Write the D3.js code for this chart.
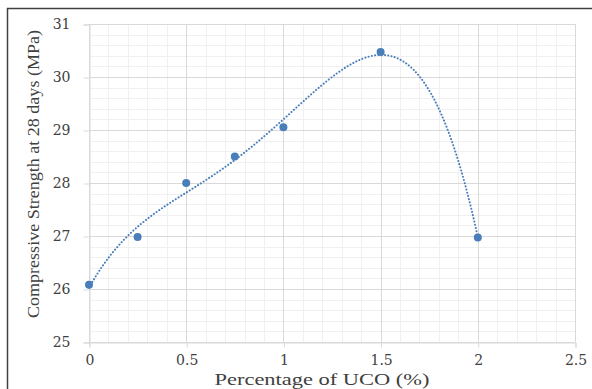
<!DOCTYPE html>
<html>
<head>
<meta charset="utf-8">
<script src="https://cdn.jsdelivr.net/npm/d3@7"></script>
<style>
  body { margin: 0; background: #fff; }
  svg text { font-family: "Liberation Serif", "Times New Roman", serif; fill: #404040; }
</style>
</head>
<body>
<svg id="chart" width="592" height="389"></svg>
<script>
const ucoPercent = [0, 0.25, 0.5, 0.75, 1, 1.5, 2];
const strength28 = [26.08, 26.98, 28.0, 28.5, 29.05, 30.47, 26.97];
const xTicks = [0, 0.5, 1, 1.5, 2, 2.5];
const yTicks = [25, 26, 27, 28, 29, 30, 31];

// least squares polynomial (like the spreadsheet trendline)
function polyfit(xs, ys, order) {
  const n = order + 1;
  const A = Array.from({ length: n }, () => new Array(n + 1).fill(0));
  for (let r = 0; r < n; r++) {
    for (let c = 0; c < n; c++) A[r][c] = d3.sum(xs, x => Math.pow(x, r + c));
    A[r][n] = d3.sum(xs, (x, i) => ys[i] * Math.pow(x, r));
  }
  for (let i = 0; i < n; i++) {
    let p = i;
    for (let k = i + 1; k < n; k++) if (Math.abs(A[k][i]) > Math.abs(A[p][i])) p = k;
    [A[i], A[p]] = [A[p], A[i]];
    for (let k = i + 1; k < n; k++) {
      const f = A[k][i] / A[i][i];
      for (let j = i; j <= n; j++) A[k][j] -= f * A[i][j];
    }
  }
  const coef = new Array(n).fill(0);
  for (let i = n - 1; i >= 0; i--) {
    let s = A[i][n];
    for (let j = i + 1; j < n; j++) s -= A[i][j] * coef[j];
    coef[i] = s / A[i][i];
  }
  return x => coef.reduce((acc, c, i) => acc + c * Math.pow(x, i), 0);
}

const svg = d3.select('#chart');
const mLeft = 89, mRight = 575, mTop = 24, mBottom = 342;

const x = d3.scaleLinear().domain([0, 2.5]).range([mLeft, mRight]);
const y = d3.scaleLinear().domain([25, 31]).range([mBottom, mTop]);

// outer frame
svg.append('rect')
  .attr('x', 7.5).attr('y', 8.5)
  .attr('width', 600).attr('height', 400)
  .attr('fill', 'none').attr('stroke', '#404040').attr('stroke-width', 1.5);

// minor grid
const grid = svg.append('g');
grid.selectAll('.vminor').data(d3.range(0, 2.5001, 0.1))
  .enter().append('line')
  .attr('x1', d => Math.round(x(d)) + 0.5).attr('x2', d => Math.round(x(d)) + 0.5)
  .attr('y1', mTop).attr('y2', mBottom)
  .attr('stroke', '#f0f0f0');
grid.selectAll('.hminor').data(d3.range(25, 31.001, 0.2))
  .enter().append('line')
  .attr('y1', d => Math.round(y(d)) + 0.5).attr('y2', d => Math.round(y(d)) + 0.5)
  .attr('x1', mLeft).attr('x2', mRight)
  .attr('stroke', '#f0f0f0');

// major grid
grid.selectAll('.vmajor').data(xTicks)
  .enter().append('line')
  .attr('x1', d => Math.round(x(d)) + 0.5).attr('x2', d => Math.round(x(d)) + 0.5)
  .attr('y1', mTop).attr('y2', mBottom)
  .attr('stroke', '#d9d9d9');
grid.selectAll('.hmajor').data(yTicks)
  .enter().append('line')
  .attr('y1', d => Math.round(y(d)) + 0.5).attr('y2', d => Math.round(y(d)) + 0.5)
  .attr('x1', mLeft).attr('x2', mRight)
  .attr('stroke', '#d9d9d9');

// axes
const xAxis = svg.append('g')
  .attr('transform', `translate(0.5,${mBottom + 0.5})`)
  .call(d3.axisBottom(x).tickValues(xTicks).tickSize(5).tickPadding(8).tickFormat(d3.format('')));
const yAxis = svg.append('g')
  .attr('transform', `translate(${mLeft + 0.5},0.5)`)
  .call(d3.axisLeft(y).tickValues(yTicks).tickSize(6).tickPadding(13).tickFormat(d3.format('')));
[xAxis, yAxis].forEach(a => {
  a.select('.domain').attr('stroke', '#d9d9d9');
  a.selectAll('.tick line').attr('stroke', '#d9d9d9');
  a.selectAll('.tick text').attr('fill', '#333')
    .style('font-family', '"DejaVu Serif", serif').style('font-size', '14px');
});

// polynomial trendline, order 4
const trend = polyfit(ucoPercent, strength28, 4);
svg.append('path')
  .datum(d3.range(0, 2.0001, 0.01))
  .attr('fill', 'none')
  .attr('stroke', '#4a7ebb')
  .attr('stroke-width', 2)
  .attr('stroke-dasharray', '0.1 3.2')
  .attr('stroke-linecap', 'round')
  .attr('d', d3.line().x(d => x(d)).y(d => y(trend(d))));

// points
svg.selectAll('.pt').data(ucoPercent)
  .enter().append('circle')
  .attr('cx', d => x(d))
  .attr('cy', (d, i) => y(strength28[i]))
  .attr('r', 4)
  .attr('fill', '#4a7ebb');

// titles
svg.append('text')
  .attr('transform', 'translate(39,174) rotate(-90)')
  .attr('text-anchor', 'middle')
  .attr('textLength', 288)
  .attr('lengthAdjust', 'spacingAndGlyphs')
  .style('font-size', '17px')
  .attr('fill', '#111')
  .text('Compressive Strength at 28 days (MPa)');
svg.append('text')
  .attr('x', 322).attr('y', 385)
  .attr('text-anchor', 'middle')
  .attr('textLength', 215)
  .attr('lengthAdjust', 'spacingAndGlyphs')
  .style('font-size', '16px')
  .attr('fill', '#111')
  .text('Percentage of UCO (%)');
</script>
</body>
</html>
